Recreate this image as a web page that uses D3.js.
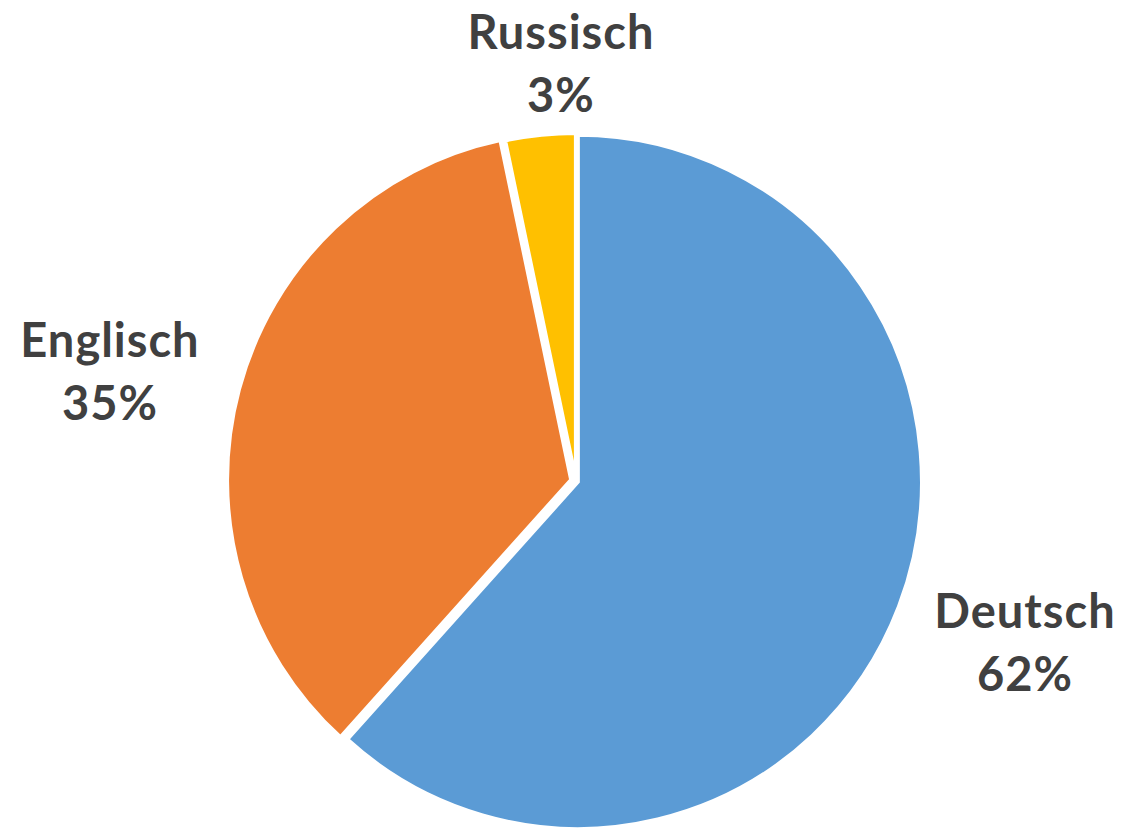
<!DOCTYPE html>
<html>
<head>
<meta charset="utf-8">
<script src="https://cdn.jsdelivr.net/npm/d3@7"></script>
<style>
  html, body { margin: 0; padding: 0; background: #ffffff; }
  svg { display: block; }
</style>
</head>
<body>
<svg id="chart" width="1125" height="830"></svg>
<script>
// ---- data ----
const categories = ["Deutsch", "Englisch", "Russisch"];
const values = [61.7, 35.0, 3.3];
const colors = ["#5B9BD5", "#ED7D31", "#FFC000"];

// ---- layout (kept separate from data) ----
const cx = 576, cy = 481.1;
const radius = 344.1;
const yStretch = 1.009;
const explode = [2, 5, 1];
const labelAnchors = [[1025, 628], [110, 357], [561, 49]]; // first-line baseline centre
const lineGap = 63;

const svg = d3.select("#chart");

const pie = d3.pie().sort(null).value(d => d)(values);
const arc = d3.arc().innerRadius(0).outerRadius(radius);

const g = svg.append("g")
  .attr("transform", `translate(${cx},${cy}) scale(1,${yStretch})`);

g.selectAll("path.slice")
  .data(pie)
  .join("path")
  .attr("class", "slice")
  .attr("d", arc)
  .attr("fill", (d, i) => colors[i])
  .attr("stroke", "#ffffff")
  .attr("stroke-width", 4)
  .attr("stroke-linejoin", "miter")
  .attr("transform", (d, i) => {
    const a = (d.startAngle + d.endAngle) / 2;
    return `translate(${Math.sin(a) * explode[i]},${-Math.cos(a) * explode[i]})`;
  });

const labels = svg.selectAll("text.lbl")
  .data(pie)
  .join("text")
  .attr("class", "lbl")
  .attr("text-anchor", "middle")
  .attr("font-family", "Lato, 'Open Sans', sans-serif")
  .attr("font-weight", 700)
  .attr("font-size", 47)
  .attr("letter-spacing", 1)
  .attr("fill", "#404040")
  .attr("x", (d, i) => labelAnchors[i][0])
  .attr("y", (d, i) => labelAnchors[i][1]);

labels.append("tspan")
  .attr("x", (d, i) => labelAnchors[i][0])
  .text((d, i) => categories[i]);
labels.append("tspan")
  .attr("x", (d, i) => labelAnchors[i][0])
  .attr("dy", lineGap)
  .text((d, i) => Math.round(values[i]) + "%");
</script>
</body>
</html>
